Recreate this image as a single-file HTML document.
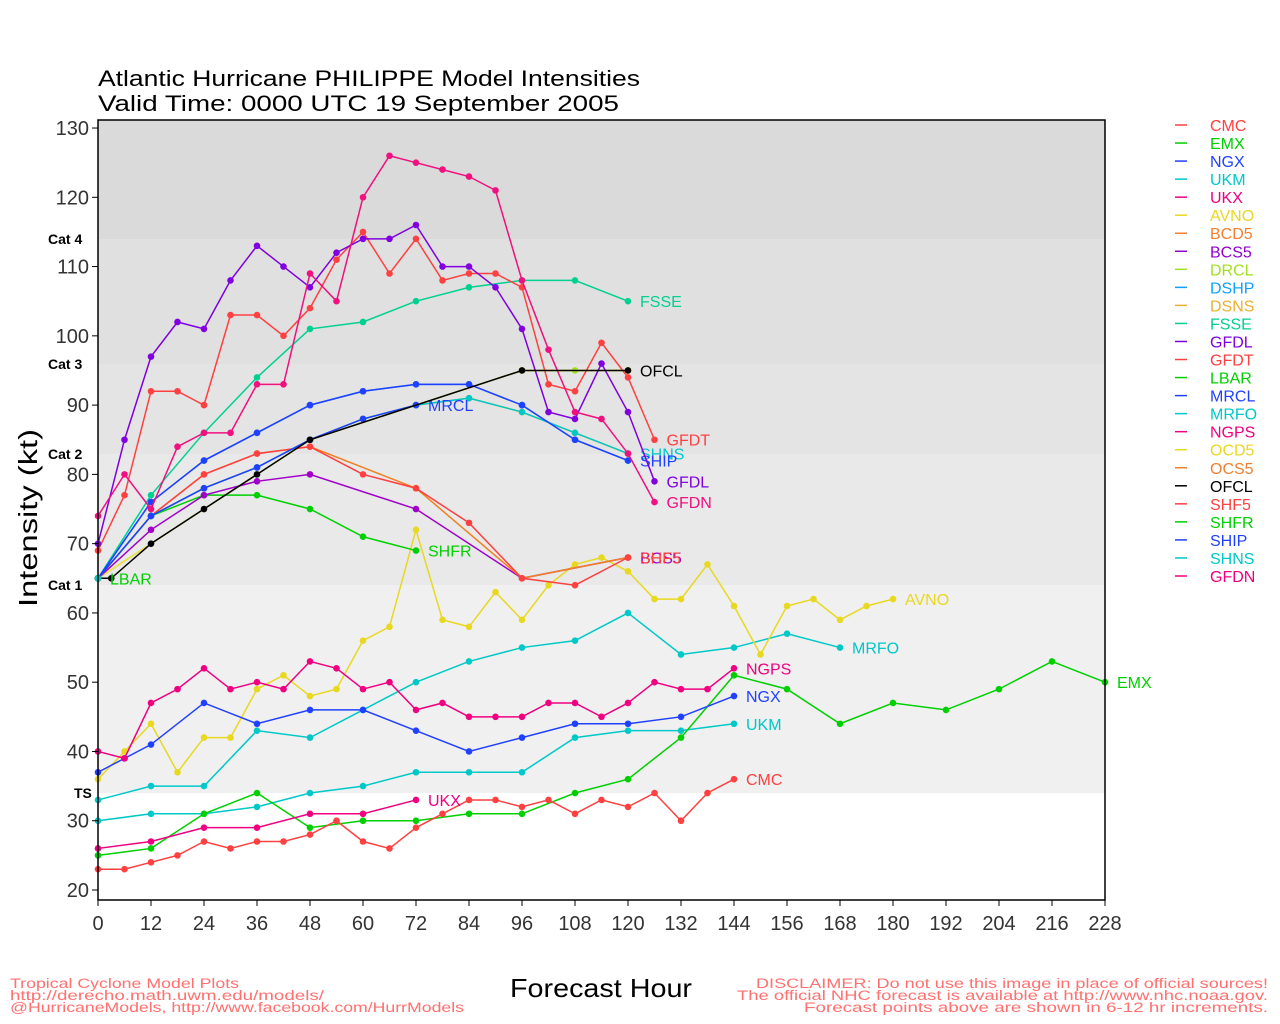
<!DOCTYPE html>
<html><head><meta charset="utf-8">
<style>
html,body{margin:0;padding:0;background:#fff;}
svg{display:block;font-family:"Liberation Sans",sans-serif;}
</style></head>
<body>
<svg id="s" width="1280" height="1024" viewBox="0 0 1280 1024" xmlns="http://www.w3.org/2000/svg">
<rect width="1280" height="1024" fill="#fff"/>
<rect x="98" y="120" width="1007" height="119" fill="#dadada"/>
<rect x="98" y="239" width="1007" height="125" fill="#e0e0e0"/>
<rect x="98" y="364" width="1007" height="90" fill="#e4e4e4"/>
<rect x="98" y="454" width="1007" height="131" fill="#e9e9e9"/>
<rect x="98" y="585" width="1007" height="208" fill="#f0f0f0"/>
<g id="data"></g>
<rect x="98" y="120" width="1007" height="780" fill="none" stroke="#000" stroke-width="1.5"/>
<g id="axes" stroke="#000" stroke-width="1"></g>
<g font-size="20" fill="#333" id="lbl"></g>
<g font-size="14" font-weight="bold" fill="#000">
<text x="48" y="244">Cat 4</text>
<text x="48" y="369">Cat 3</text>
<text x="48" y="459">Cat 2</text>
<text x="48" y="590">Cat 1</text>
<text x="74" y="798">TS</text>
</g>
<text x="98" y="86" font-size="22" textLength="542" lengthAdjust="spacingAndGlyphs" fill="#000">Atlantic Hurricane PHILIPPE Model Intensities</text>
<text x="98" y="111" font-size="22" textLength="521" lengthAdjust="spacingAndGlyphs" fill="#000">Valid Time: 0000 UTC 19 September 2005</text>
<text transform="translate(37,518) rotate(-90)" text-anchor="middle" font-size="26" fill="#000" textLength="178" lengthAdjust="spacingAndGlyphs">Intensity (kt)</text>
<text x="601" y="997" text-anchor="middle" font-size="26" fill="#000" textLength="182" lengthAdjust="spacingAndGlyphs">Forecast Hour</text>
<g font-size="13.5" fill="#ff7070">
<text x="10" y="988" textLength="229" lengthAdjust="spacingAndGlyphs">Tropical Cyclone Model Plots</text>
<text x="10" y="1000" textLength="314" lengthAdjust="spacingAndGlyphs">http://derecho.math.uwm.edu/models/</text>
<text x="10" y="1012" textLength="454" lengthAdjust="spacingAndGlyphs">@HurricaneModels, http://www.facebook.com/HurrModels</text>
<text x="1268" y="988" text-anchor="end" textLength="512" lengthAdjust="spacingAndGlyphs">DISCLAIMER: Do not use this image in place of official sources!</text>
<text x="1268" y="1000" text-anchor="end" textLength="531" lengthAdjust="spacingAndGlyphs">The official NHC forecast is available at http://www.nhc.noaa.gov.</text>
<text x="1268" y="1012" text-anchor="end" textLength="464" lengthAdjust="spacingAndGlyphs">Forecast points above are shown in 6-12 hr increments.</text>
</g>
<g id="leg" font-size="16"></g>
</svg>
<script>
var NS="http://www.w3.org/2000/svg";
function X(h){return 98+h*1007/228;}
function Y(v){return 890-(v-20)*6.927;}
function el(t,a,p,txt){var e=document.createElementNS(NS,t);for(var k in a)e.setAttribute(k,a[k]);if(txt!=null)e.textContent=txt;p.appendChild(e);return e;}
var ax=document.getElementById('axes'),lb=document.getElementById('lbl');
for(var h=0;h<=228;h+=12){el('line',{x1:X(h),y1:900,x2:X(h),y2:906},ax);el('text',{x:X(h),y:930,'text-anchor':'middle'},lb,String(h));}
for(var v=20;v<=130;v+=10){el('line',{x1:92,y1:Y(v),x2:98,y2:Y(v)},ax);el('text',{x:89,y:Y(v)+7,'text-anchor':'end'},lb,String(v));}
function P(s){return s.split(' ').map(function(p){var q=p.split(':');return [+q[0],+q[1]];});}
var S=[
["DRCL","#a0e020","0:65 48:85 72:90 96:95 108:95 120:95",null],
["OCD5","#f0e040","0:65 48:85 72:90 96:95 120:95",null],
["DSNS","#e8b000","0:65 12:74 24:78 36:81 48:85 60:88 72:90 84:91 96:89 108:86 120:83",null],
["DSHP","#1090ff","0:65 12:76 24:82 36:86 48:90 60:92 72:93 84:93 96:90 108:85 120:82",null],
["FSSE","#00d090","0:65 12:77 24:86 36:94 48:101 60:102 72:105 84:107 96:108 108:108 120:105","FSSE"],
["MRFO","#00c8c8","0:33 12:35 24:35 36:43 48:42 60:46 72:50 84:53 96:55 108:56 120:60 132:54 144:55 156:57 168:55","MRFO"],
["UKM","#00c8c8","0:30 12:31 24:31 36:32 48:34 60:35 72:37 84:37 96:37 108:42 120:43 132:43 144:44","UKM"],
["AVNO","#e8d820","0:36 6:40 12:44 18:37 24:42 30:42 36:49 42:51 48:48 54:49 60:56 66:58 72:72 78:59 84:58 90:63 96:59 102:64 108:67 114:68 120:66 126:62 132:62 138:67 144:61 150:54 156:61 162:62 168:59 174:61 180:62","AVNO"],
["EMX","#00d000","0:25 12:26 24:31 36:34 48:29 60:30 72:30 84:31 96:31 108:34 120:36 132:42 144:51 156:49 168:44 180:47 192:46 204:49 216:53 228:50","EMX"],
["CMC","#ff4040","0:23 6:23 12:24 18:25 24:27 30:26 36:27 42:27 48:28 54:30 60:27 66:26 72:29 78:31 84:33 90:33 96:32 102:33 108:31 114:33 120:32 126:34 132:30 138:34 144:36","CMC"],
["UKX","#f00080","0:26 12:27 24:29 36:29 48:31 60:31 72:33","UKX"],
["NGX","#2040ff","0:37 6:39 12:41 24:47 36:44 48:46 60:46 72:43 84:40 96:42 108:44 120:44 132:45 144:48","NGX"],
["NGPS","#f00080","0:40 6:39 12:47 18:49 24:52 30:49 36:50 42:49 48:53 54:52 60:49 66:50 72:46 78:47 84:45 90:45 96:45 102:47 108:47 114:45 120:47 126:50 132:49 138:49 144:52","NGPS"],
["SHFR","#00d000","0:65 12:74 24:77 36:77 48:75 60:71 72:69","SHFR"],
["BCS5","#a000c8","0:65 12:72 24:77 36:79 48:80 72:75 96:65 120:68","BCS5"],
["BCD5","#f08020","0:65 12:74 24:80 36:83 48:84 72:78 96:65 120:68",null],
["SHF5","#ff4040","0:65 12:74 24:80 36:83 48:84 60:80 72:78 84:73 96:65 108:64 120:68","SHF5"],
["SHNS","#00c8c8","0:65 12:74 24:78 36:81 48:85 60:88 72:90 84:91 96:89 108:86 120:83","SHNS"],
["SHIP","#2040ff","0:65 12:76 24:82 36:86 48:90 60:92 72:93 84:93 96:90 108:85 120:82","SHIP"],
["MRCL","#2040ff","0:65 12:74 24:78 36:81 48:85 60:88 72:90","MRCL"],
["GFDT","#ff4040","0:69 6:77 12:92 18:92 24:90 30:103 36:103 42:100 48:104 54:111 60:115 66:109 72:114 78:108 84:109 90:109 96:107 102:93 108:92 114:99 120:94 126:85","GFDT"],
["GFDL","#8000e0","0:70 6:85 12:97 18:102 24:101 30:108 36:113 42:110 48:107 54:112 60:114 66:114 72:116 78:110 84:110 90:107 96:101 102:89 108:88 114:96 120:89 126:79","GFDL"],
["GFDN","#f0107f","0:74 6:80 12:75 18:84 24:86 30:86 36:93 42:93 48:109 54:105 60:120 66:126 72:125 78:124 84:123 90:121 96:108 102:98 108:89 114:88 120:83 126:76","GFDN"],
["OFCL","#000000","0:65 3:65 12:70 24:75 36:80 48:85 96:95 120:95","OFCL"],
["LBAR","#00d000","0:65","LBAR"],
["SHNS0","#00c8c8","0:65",null]
];
var g=document.getElementById('data');
S.forEach(function(s){
  var pts=P(s[2]);
  if(pts.length>1)el('polyline',{points:pts.map(function(p){return X(p[0])+','+Y(p[1]);}).join(' '),fill:'none',stroke:s[1],'stroke-width':1.5},g);
  pts.forEach(function(p){el('circle',{cx:X(p[0]),cy:Y(p[1]),r:3.3,fill:s[1]},g);});
  if(s[3]){var l=pts[pts.length-1];
    el('text',{x:X(l[0])+12,y:Y(l[1])+6,'font-size':16,fill:s[1]},g,s[3]);}
});
var L=[["CMC","#ff4040"],["EMX","#00d000"],["NGX","#2040ff"],["UKM","#00c8c8"],["UKX","#f00080"],["AVNO","#e8d820"],["BCD5","#f08030"],["BCS5","#9000d0"],["DRCL","#a0e020"],["DSHP","#10a0ff"],["DSNS","#e8b030"],["FSSE","#00d090"],["GFDL","#8000e0"],["GFDT","#ff4040"],["LBAR","#00d000"],["MRCL","#2040ff"],["MRFO","#00c8c8"],["NGPS","#f00080"],["OCD5","#e8d820"],["OCS5","#f08030"],["OFCL","#000000"],["SHF5","#ff4040"],["SHFR","#00d000"],["SHIP","#2040ff"],["SHNS","#00c8c8"],["GFDN","#f00080"]];
var lg=document.getElementById('leg');
L.forEach(function(it,i){var y=125+i*18.04;
  el('line',{x1:1175,y1:y,x2:1187,y2:y,stroke:it[1],'stroke-width':1.5},lg);
  el('text',{x:1210,y:y+6,fill:it[1]},lg,it[0]);});
</script>
</body></html>
